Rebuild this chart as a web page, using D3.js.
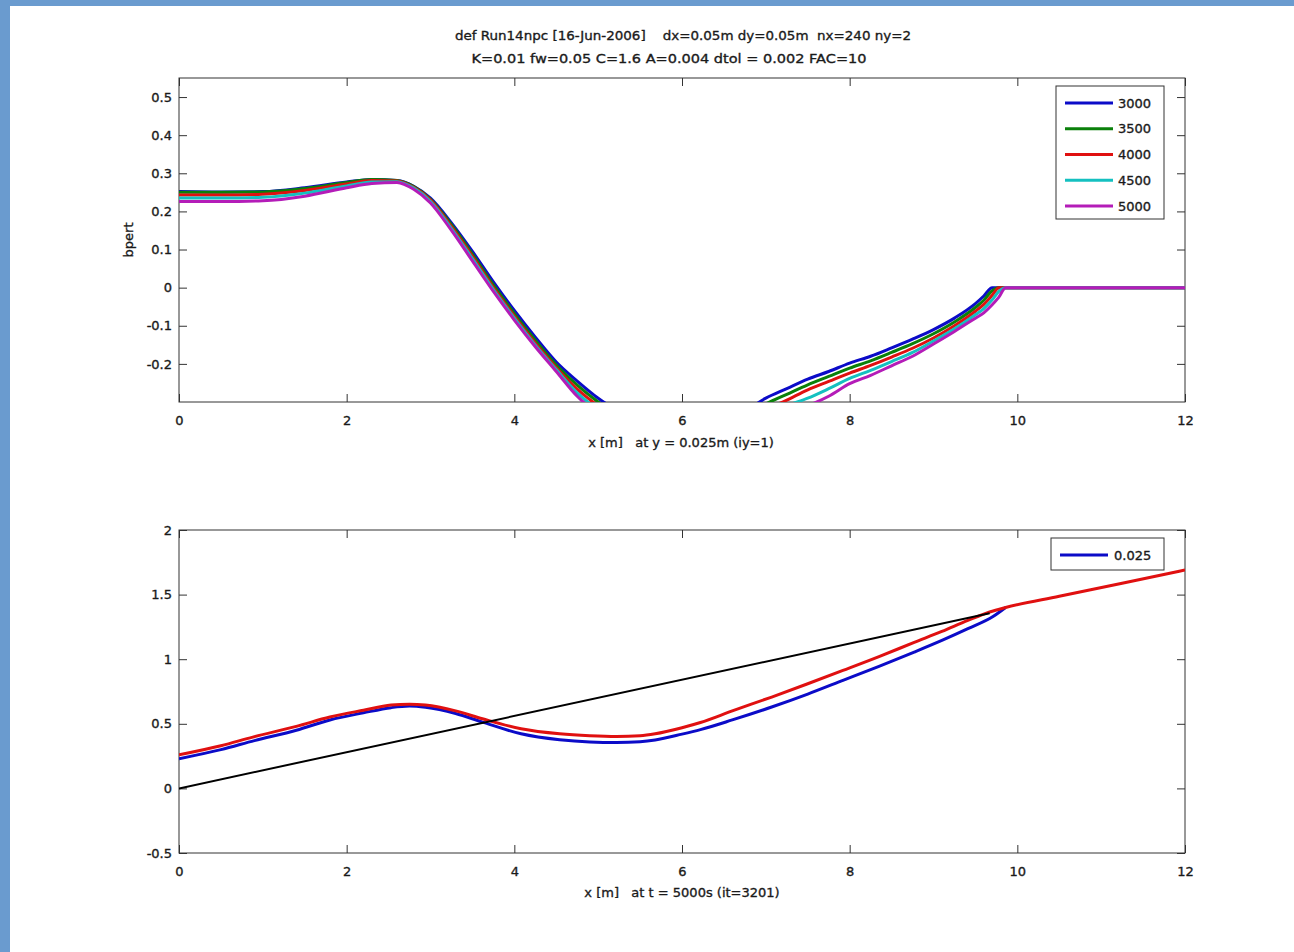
<!DOCTYPE html>
<html><head><meta charset="utf-8">
<script src="https://cdn.jsdelivr.net/npm/d3@7"></script>
<style>
html,body{margin:0;padding:0;background:#fff;}
svg{display:block;}
text{font-family:"DejaVu Sans",sans-serif;fill:#1a1a1a;stroke:#1a1a1a;stroke-width:0.35px;white-space:pre;}
</style></head><body>
<svg id="chart" width="1294" height="952"></svg>
<script>
// ---------------- data ----------------
const titleLine1 = "def Run14npc [16-Jun-2006]    dx=0.05m dy=0.05m  nx=240 ny=2";
const titleLine2 = "K=0.01 fw=0.05 C=1.6 A=0.004 dtol = 0.002 FAC=10";
const topXLabel = "x [m]   at y = 0.025m (iy=1)";
const botXLabel = "x [m]   at t = 5000s (it=3201)";
const topYLabel = "bpert";

const xTicks = [0, 2, 4, 6, 8, 10, 12];
const xTickLabels = ["0", "2", "4", "6", "8", "10", "12"];
const topYTicks = [-0.2, -0.1, 0, 0.1, 0.2, 0.3, 0.4, 0.5];
const topYTickLabels = ["-0.2", "-0.1", "0", "0.1", "0.2", "0.3", "0.4", "0.5"];
const botYTicks = [-0.5, 0, 0.5, 1, 1.5, 2];
const botYTickLabels = ["-0.5", "0", "0.5", "1", "1.5", "2"];

// top panel: bpert profiles at times 3000..5000 s
const topSeriesNames = ["3000", "3500", "4000", "4500", "5000"];
const topX = [0, 0.5, 1, 1.5, 2, 2.3, 2.6, 2.8, 3, 3.25, 3.5, 3.75, 4, 4.25, 4.5, 4.75, 5, 5.25, 5.5, 6, 6.5, 7, 7.25, 7.5, 7.75, 8, 8.25, 8.5, 8.75, 9, 9.25, 9.5, 9.6, 9.7, 9.78, 9.86, 12];
const bpert3000 = [0.252, 0.251, 0.252, 0.262, 0.277, 0.284, 0.281, 0.266, 0.235, 0.17, 0.095, 0.015, -0.06, -0.13, -0.195, -0.245, -0.29, -0.325, -0.35, -0.38, -0.36, -0.29, -0.265, -0.24, -0.22, -0.198, -0.18, -0.158, -0.135, -0.11, -0.08, -0.042, -0.022, 0, 0, 0, 0];
const bpert3500 = [0.250, 0.250, 0.251, 0.26, 0.276, 0.284, 0.281, 0.265, 0.232, 0.165, 0.088, 0.007, -0.068, -0.138, -0.203, -0.256, -0.3, -0.335, -0.36, -0.39, -0.37, -0.305, -0.28, -0.255, -0.233, -0.211, -0.192, -0.17, -0.147, -0.121, -0.09, -0.052, -0.033, -0.008, 0, 0, 0];
const bpert4000 = [0.243, 0.243, 0.245, 0.255, 0.272, 0.281, 0.28, 0.263, 0.23, 0.16, 0.082, 0.0, -0.075, -0.146, -0.21, -0.266, -0.31, -0.345, -0.37, -0.395, -0.38, -0.32, -0.295, -0.268, -0.246, -0.224, -0.204, -0.182, -0.159, -0.132, -0.1, -0.062, -0.044, -0.02, 0, 0, 0];
const bpert4500 = [0.235, 0.235, 0.237, 0.248, 0.267, 0.277, 0.278, 0.261, 0.226, 0.155, 0.076, -0.005, -0.08, -0.151, -0.215, -0.276, -0.32, -0.352, -0.375, -0.398, -0.385, -0.335, -0.31, -0.29, -0.265, -0.238, -0.217, -0.194, -0.17, -0.14, -0.108, -0.071, -0.055, -0.032, -0.01, 0, 0];
const bpert5000 = [0.226, 0.226, 0.228, 0.24, 0.262, 0.273, 0.276, 0.258, 0.222, 0.15, 0.07, -0.01, -0.085, -0.155, -0.22, -0.285, -0.33, -0.36, -0.38, -0.40, -0.39, -0.35, -0.33, -0.31, -0.285, -0.252, -0.23, -0.205, -0.18, -0.148, -0.115, -0.08, -0.066, -0.045, -0.025, 0, 0];
const topColors = ["#0b0bc8", "#0a800a", "#e01010", "#14c0c0", "#b41cb8"];

// bottom panel: bed elevation at t=5000 s
const botLegendNames = ["0.025"];
const botBlueX = [0, 0.5, 0.9, 1.4, 1.8, 2.2, 2.53, 2.75, 2.94, 3.3, 3.62, 4.08, 4.54, 4.9, 5.22, 5.5, 5.68, 6.0, 6.22, 6.6, 7.07, 7.5, 7.92, 8.35, 8.77, 9.1, 9.41, 9.71, 9.86];
const botBlueY = [0.23, 0.30, 0.37, 0.45, 0.53, 0.585, 0.625, 0.637, 0.628, 0.58, 0.513, 0.423, 0.377, 0.36, 0.356, 0.362, 0.375, 0.42, 0.455, 0.53, 0.63, 0.73, 0.836, 0.945, 1.055, 1.145, 1.236, 1.33, 1.40];
const botRedX = [0, 0.5, 0.88, 1.4, 1.8, 2.2, 2.53, 2.75, 2.94, 3.3, 3.62, 4.08, 4.54, 4.9, 5.22, 5.5, 5.68, 6.0, 6.22, 6.6, 7.07, 7.5, 7.92, 8.35, 8.77, 9.1, 9.41, 9.67, 9.86, 10.5, 11.25, 12];
const botRedY = [0.26, 0.33, 0.397, 0.48, 0.552, 0.605, 0.645, 0.652, 0.645, 0.6, 0.539, 0.462, 0.423, 0.408, 0.402, 0.408, 0.423, 0.47, 0.51, 0.6, 0.707, 0.81, 0.913, 1.02, 1.13, 1.215, 1.30, 1.365, 1.40, 1.487, 1.588, 1.69];
const botBlackX = [0, 9.67];
const botBlackY = [0, 1.355];
const botColors = {blue: "#0b0bc8", red: "#e01010", black: "#000000"};

// ---------------- drawing ----------------
const svg = d3.select("#chart");
const W = 1294, H = 952;
svg.append("rect").attr("x", 0).attr("y", 0).attr("width", W).attr("height", H).attr("fill", "#fff");
svg.append("rect").attr("x", 0).attr("y", 0).attr("width", W).attr("height", 6).attr("fill", "#6a9bcf");
svg.append("rect").attr("x", 0).attr("y", 0).attr("width", 10).attr("height", H).attr("fill", "#6a9bcf");

const axL = 179, axR = 1185;
const x = d3.scaleLinear().domain([0, 12]).range([axL, axR]);
const topPanel = {top: 78, bottom: 402, domain: [-0.3, 0.55]};
const botPanel = {top: 530, bottom: 853, domain: [-0.5, 2]};
const yTop = d3.scaleLinear().domain(topPanel.domain).range([topPanel.bottom, topPanel.top]);
const yBot = d3.scaleLinear().domain(botPanel.domain).range([botPanel.bottom, botPanel.top]);

const TICK = 8;
function drawAxes(panel, y, yTicks, yLabels, id) {
  const g = svg.append("g");
  const bx = d3.axisBottom(x).tickValues(xTicks).tickFormat((d, i) => xTickLabels[i]).tickSizeInner(-TICK).tickSizeOuter(0).tickPadding(14);
  const tx = d3.axisTop(x).tickValues(xTicks).tickFormat("").tickSizeInner(-TICK).tickSizeOuter(0);
  const ly = d3.axisLeft(y).tickValues(yTicks).tickFormat((d, i) => yLabels[i]).tickSizeInner(-TICK).tickSizeOuter(0).tickPadding(7);
  const ry = d3.axisRight(y).tickValues(yTicks).tickFormat("").tickSizeInner(-TICK).tickSizeOuter(0);
  const gb = g.append("g").attr("transform", `translate(0,${panel.bottom})`).call(bx);
  const gt = g.append("g").attr("transform", `translate(0,${panel.top})`).call(tx);
  const gl = g.append("g").attr("transform", `translate(${axL},0)`).call(ly);
  const gr = g.append("g").attr("transform", `translate(${axR},0)`).call(ry);
  [gb, gt, gl, gr].forEach(a => {
    a.select(".domain").remove();
    a.selectAll(".tick line").attr("stroke", "#333").attr("stroke-width", 1);
    a.selectAll(".tick text").attr("font-size", 13).attr("font-family", "DejaVu Sans, sans-serif")
      .attr("fill", "#1a1a1a").attr("stroke", "#1a1a1a").attr("stroke-width", 0.35);
  });
  g.append("rect").attr("x", axL).attr("y", panel.top).attr("width", axR - axL).attr("height", panel.bottom - panel.top)
    .attr("fill", "none").attr("stroke", "#333").attr("stroke-width", 1);
  svg.append("clipPath").attr("id", id).append("rect")
    .attr("x", axL).attr("y", panel.top).attr("width", axR - axL).attr("height", panel.bottom - panel.top);
}

drawAxes(topPanel, yTop, topYTicks, topYTickLabels, "clipTop");
drawAxes(botPanel, yBot, botYTicks, botYTickLabels, "clipBot");

// top curves
const topSeries = [bpert3000, bpert3500, bpert4000, bpert4500, bpert5000];
const lineTop = d3.line().x(d => x(d[0])).y(d => yTop(d[1])).curve(d3.curveMonotoneX);
const gTop = svg.append("g").attr("clip-path", "url(#clipTop)");
topSeries.forEach((s, i) => {
  gTop.append("path").datum(topX.map((xv, j) => [xv, s[j]]))
    .attr("d", lineTop).attr("fill", "none").attr("stroke", topColors[i]).attr("stroke-width", 3)
    .attr("stroke-linejoin", "round");
});

// bottom curves
const lineBot = d3.line().x(d => x(d[0])).y(d => yBot(d[1])).curve(d3.curveMonotoneX);
const gBot = svg.append("g").attr("clip-path", "url(#clipBot)");
gBot.append("path").datum(botBlueX.map((xv, j) => [xv, botBlueY[j]]))
  .attr("d", lineBot).attr("fill", "none").attr("stroke", botColors.blue).attr("stroke-width", 3);
gBot.append("path").datum(botRedX.map((xv, j) => [xv, botRedY[j]]))
  .attr("d", lineBot).attr("fill", "none").attr("stroke", botColors.red).attr("stroke-width", 3);
gBot.append("path").datum(botBlackX.map((xv, j) => [xv, botBlackY[j]]))
  .attr("d", lineBot).attr("fill", "none").attr("stroke", botColors.black).attr("stroke-width", 2);

// legends
const legTop = svg.append("g");
legTop.append("rect").attr("x", 1056).attr("y", 86).attr("width", 108).attr("height", 133)
  .attr("fill", "#fff").attr("stroke", "#333").attr("stroke-width", 1);
topSeriesNames.forEach((n, i) => {
  const yy = 103 + i * 25.75;
  legTop.append("line").attr("x1", 1065).attr("x2", 1113).attr("y1", yy).attr("y2", yy)
    .attr("stroke", topColors[i]).attr("stroke-width", 3);
  legTop.append("text").attr("x", 1118).attr("y", yy + 4.5).attr("font-size", 13).text(n);
});
const legBot = svg.append("g");
legBot.append("rect").attr("x", 1051).attr("y", 538).attr("width", 113).attr("height", 32)
  .attr("fill", "#fff").attr("stroke", "#333").attr("stroke-width", 1);
legBot.append("line").attr("x1", 1060).attr("x2", 1108).attr("y1", 555).attr("y2", 555)
  .attr("stroke", botColors.blue).attr("stroke-width", 3);
legBot.append("text").attr("x", 1114).attr("y", 559.5).attr("font-size", 13).text(botLegendNames[0]);

// titles and labels
svg.append("text").attr("x", 683).attr("y", 40).attr("text-anchor", "middle").attr("font-size", 13)
  .attr("textLength", 456).attr("lengthAdjust", "spacingAndGlyphs").text(titleLine1);
svg.append("text").attr("x", 669).attr("y", 63).attr("text-anchor", "middle").attr("font-size", 13)
  .attr("textLength", 395).attr("lengthAdjust", "spacingAndGlyphs").text(titleLine2);
svg.append("text").attr("x", 681).attr("y", 447).attr("text-anchor", "middle").attr("font-size", 13).text(topXLabel);
svg.append("text").attr("x", 682).attr("y", 897).attr("text-anchor", "middle").attr("font-size", 13).text(botXLabel);
svg.append("text").attr("transform", "translate(133,240) rotate(-90)").attr("text-anchor", "middle").attr("font-size", 13).text(topYLabel);
</script>
</body></html>
